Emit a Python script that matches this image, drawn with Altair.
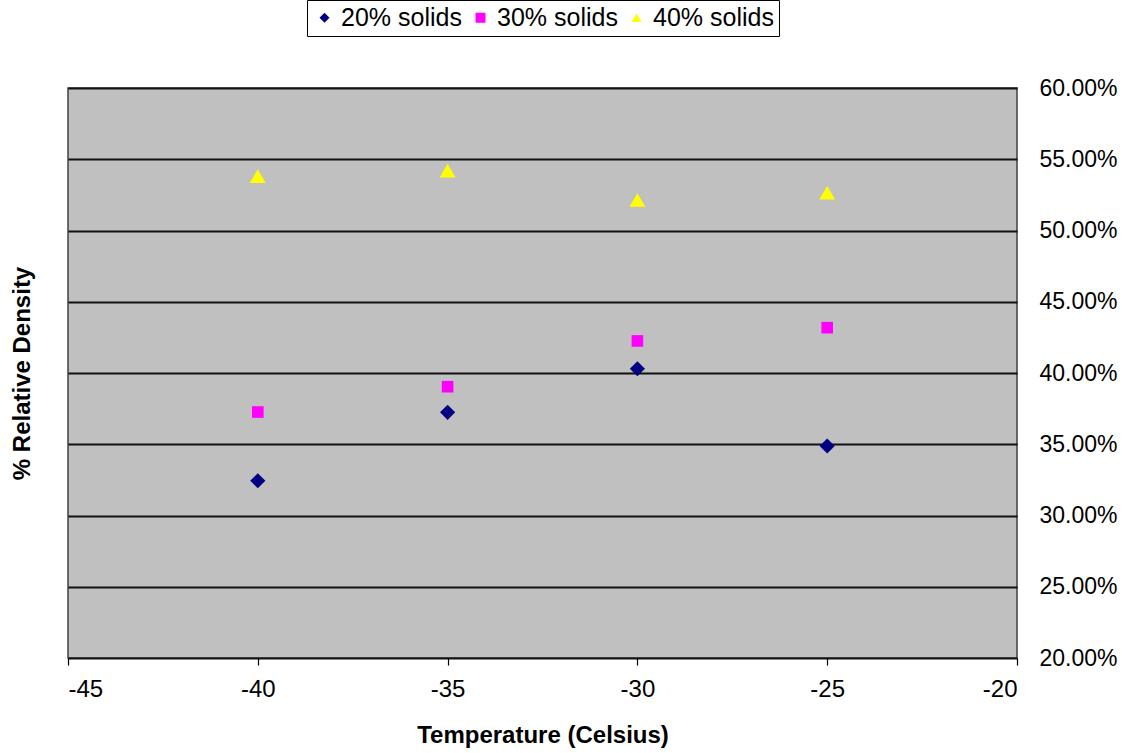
import altair as alt
import pandas as pd

# Measured relative density (fraction) by temperature for each solids level
temps = [-40, -35, -30, -25]
solids_20 = [0.3244, 0.3724, 0.4030, 0.3488]
solids_30 = [0.3726, 0.3904, 0.4225, 0.4318]
solids_40 = [0.5382, 0.5420, 0.5214, 0.5265]

series_names = ["20% solids", "30% solids", "40% solids"]
series_values = [solids_20, solids_30, solids_40]
series_colors = ["#000080", "#FF00FF", "#FFFF00"]
series_shapes = ["diamond", "square", "triangle-up"]
series_sizes = [230, 135, 250]

y_ticks = [0.20, 0.25, 0.30, 0.35, 0.40, 0.45, 0.50, 0.55, 0.60]
x_ticks = [-45, -40, -35, -30, -25, -20]

rows = []
for name, vals in zip(series_names, series_values):
    for t, v in zip(temps, vals):
        rows.append({"Temperature": t, "Density": v, "Series": name})
df = pd.DataFrame(rows)

W, H = 949, 570
FONT = "Liberation Sans"

x_enc = alt.X(
    "Temperature:Q",
    scale=alt.Scale(domain=[-45, -20], nice=False, zero=False),
    axis=alt.Axis(
        values=x_ticks,
        labelExpr="'' + datum.value",
        title="Temperature (Celsius)",
        grid=False,
        domain=False,
        tickColor="#000000",
        tickSize=7,
        tickWidth=1.2,
        labelFontSize=24,
        labelPadding=12,
        labelColor="#000000",
        labelFont=FONT,
        titleFont=FONT,
        titleFontSize=24,
        titleFontWeight="bold",
        titleColor="#000000",
        titlePadding=22,
    ),
)

y_enc = alt.Y(
    "Density:Q",
    scale=alt.Scale(domain=[0.20, 0.60], nice=False, zero=False),
    axis=alt.Axis(
        orient="right",
        values=y_ticks,
        format=".2%",
        title="% Relative Density",
        grid=True,
        gridColor="#111111",
        gridWidth=1.8,
        domain=False,
        ticks=False,
        labelFontSize=23,
        labelPadding=22,
        labelColor="#000000",
        labelFont=FONT,
        titleFont=FONT,
        titleFontSize=24,
        titleFontWeight="bold",
        titleColor="#000000",
        titleAngle=270,
        titleX=-(W + 46),
        titleY=H / 2,
        titleAlign="center",
        titleBaseline="middle",
    ),
)

color_enc = alt.Color(
    "Series:N",
    scale=alt.Scale(domain=series_names, range=series_colors),
    legend=alt.Legend(
        title=None,
        orient="none",
        direction="horizontal",
        legendX=239,
        legendY=-88,
        strokeColor="#000000",
        fillColor="#FFFFFF",
        padding=5,
        labelFontSize=25,
        labelFont=FONT,
        labelColor="#000000",
        symbolSize=100,
        symbolOpacity=1,
        symbolStrokeWidth=0,
        columnPadding=6,
        labelOffset=4,
    ),
)

shape_enc = alt.Shape(
    "Series:N",
    scale=alt.Scale(domain=series_names, range=series_shapes),
    legend=None,
)

base = alt.Chart(df).encode(x=x_enc, y=y_enc, color=color_enc, shape=shape_enc)

# one layer per series so each marker type keeps its own size
layers = [
    base.transform_filter(alt.datum.Series == name).mark_point(
        filled=True, opacity=1, size=sz
    )
    for name, sz in zip(series_names, series_sizes)
]

chart = (
    alt.layer(*layers)
    .properties(
        width=W,
        height=H,
        autosize=alt.AutoSizeParams(type="none"),
        padding={"left": 68, "top": 88, "right": 110, "bottom": 95},
        background="#FFFFFF",
    )
    .configure_view(fill="#C0C0C0", stroke="#404040", strokeWidth=1.5)
)

chart.save("out.html", embed_options={"renderer": "svg", "actions": False})
